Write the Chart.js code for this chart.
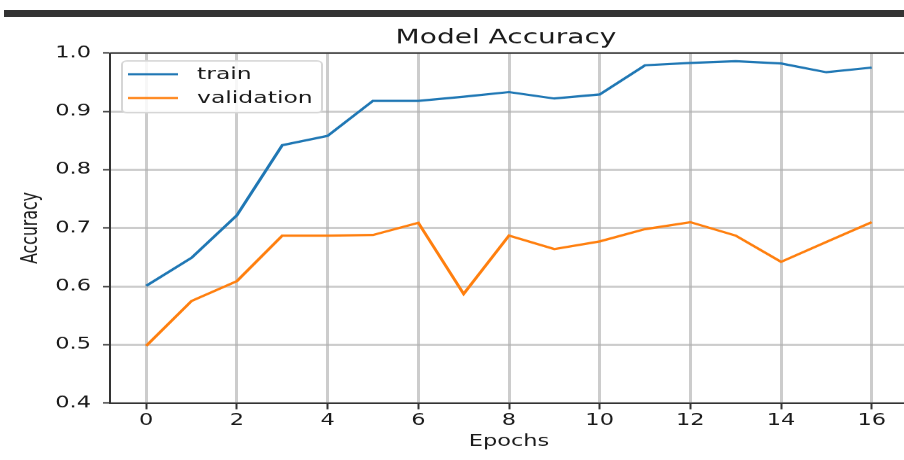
<!DOCTYPE html>
<html>
<head>
<meta charset="utf-8">
<script src="https://cdn.jsdelivr.net/npm/chart.js@4"></script>
<style>
  html, body { margin: 0; padding: 0; background: #fff; overflow: hidden; width: 904px; height: 460px; }
  #wrap { position: absolute; left: 0; top: 0; width: 920px; height: 657px; transform: scaleY(0.7); transform-origin: 0 0; }
  #bar { position: absolute; left: 4px; right: 0; top: 10px; height: 7px; background: #333; z-index: 2; }
</style>
</head>
<body>
<div id="wrap"><canvas id="myChart" width="920" height="657"></canvas></div>
<div id="bar"></div>
<script>
// Model accuracy per epoch, train vs validation
// The source picture is squashed vertically, so draw tall and scale down

const ctx = document.querySelector("#myChart");

const chartTitle = "Model Accuracy";
const epochs = [0, 1, 2, 3, 4, 5, 6, 7, 8, 9, 10, 11, 12, 13, 14, 15, 16];
const trainAcc = [0.601, 0.649, 0.722, 0.842, 0.858, 0.918, 0.918, 0.925, 0.933, 0.922, 0.929, 0.979, 0.983, 0.986, 0.982, 0.967, 0.975];
const valAcc = [0.498, 0.575, 0.609, 0.687, 0.687, 0.688, 0.709, 0.587, 0.687, 0.664, 0.677, 0.698, 0.710, 0.687, 0.642, 0.676, 0.710];
const xTicks = [0, 2, 4, 6, 8, 10, 12, 14, 16];
const yTicks = [0.4, 0.5, 0.6, 0.7, 0.8, 0.9, 1.0];

const font = "'DejaVu Sans', sans-serif";
const textColor = "#1a1a1a";
const gridColor = "rgba(176, 176, 176, 0.65)";
const spineColor = "#333";

const train = {
  label: "train",
  data: epochs.map((e, idx) => ({ x: e, y: trainAcc[idx] })),
  borderColor: "#1f77b4",
  backgroundColor: "#1f77b4",
  borderWidth: 3.2,
  pointRadius: 0,
  tension: 0,
};

const validation = {
  label: "validation",
  data: epochs.map((e, idx) => ({ x: e, y: valAcc[idx] })),
  borderColor: "#ff7f0e",
  backgroundColor: "#ff7f0e",
  borderWidth: 3.2,
  pointRadius: 0,
  tension: 0,
};

// title, top spine and matplotlib style legend
const decorations = {
  id: "decorations",
  afterDraw(chart) {
    const c = chart.ctx;
    const area = chart.chartArea;
    c.save();
    c.strokeStyle = spineColor;
    c.lineWidth = 2;
    c.beginPath();
    c.moveTo(area.left, area.top);
    c.lineTo(area.right, area.top);
    c.stroke();

    c.fillStyle = textColor;
    c.font = "28px " + font;
    c.textAlign = "center";
    c.textBaseline = "middle";
    c.fillText(chartTitle, (area.left + area.right) / 2 - 3, 55);

    // legend box
    const bx = 122, by = 87, bw = 200, bh = 74;
    c.fillStyle = "rgba(255, 255, 255, 0.85)";
    c.strokeStyle = "#d6d6d6";
    c.lineWidth = 2;
    c.beginPath();
    c.roundRect(bx, by, bw, bh, 5);
    c.fill();
    c.stroke();
    c.font = "23.5px " + font;
    c.textAlign = "left";
    chart.data.datasets.forEach((ds, i) => {
      const y = 106 + i * 34;
      c.strokeStyle = ds.borderColor;
      c.lineWidth = 3.2;
      c.beginPath();
      c.moveTo(128, y);
      c.lineTo(178, y);
      c.stroke();
      c.fillStyle = textColor;
      c.fillText(ds.label, 197, y + 1);
    });
    c.restore();
  },
};

const config = {
  type: "line",
  data: { datasets: [train, validation] },
  options: {
    responsive: false,
    animation: false,
    devicePixelRatio: 1,
    layout: { padding: { top: 75.7, right: 12, left: 0, bottom: 0 } },
    plugins: { legend: { display: false }, tooltip: { enabled: false } },
    scales: {
      x: {
        type: "linear",
        min: -0.8,
        max: 16.8,
        afterBuildTicks: (s) => { s.ticks = xTicks.map((v) => ({ value: v })); },
        afterFit: (s) => { s.height = 81.3; },
        grid: { color: gridColor, lineWidth: 3, tickColor: spineColor, tickLength: 9, tickWidth: 2 },
        border: { color: spineColor, width: 2 },
        ticks: { color: textColor, font: { family: font, size: 22.5 }, padding: 3, maxRotation: 0 },
        title: { display: true, text: "Epochs", color: textColor, font: { family: font, size: 22.5 }, padding: { top: 0, bottom: 12 } },
      },
      y: {
        min: 0.4,
        max: 1.0,
        afterBuildTicks: (s) => { s.ticks = yTicks.map((v) => ({ value: v })); },
        afterFit: (s) => { s.width = 110; },
        grid: { color: gridColor, lineWidth: 3, tickColor: spineColor, tickLength: 7, tickWidth: 2 },
        border: { color: spineColor, width: 2 },
        ticks: { color: textColor, font: { family: font, size: 22.5 }, padding: 12, callback: (v) => v.toFixed(1) },
        title: { display: true, text: "Accuracy", color: textColor, font: { family: font, size: 22.5 }, padding: { top: 18, bottom: 0 } },
      },
    },
  },
  plugins: [decorations],
};

const chart = new Chart(ctx, config);
</script>
</body>
</html>
